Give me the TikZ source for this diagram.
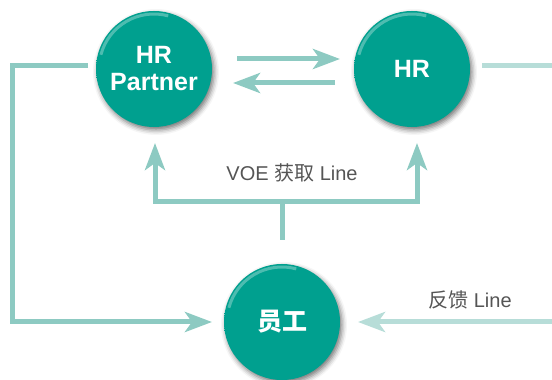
\documentclass[tikz,border=0pt]{standalone}
\usepackage{fontspec}
\setmainfont{Liberation Sans}
\newfontfamily\cjk{Noto Sans CJK SC}
\usepackage{tikz}
\usetikzlibrary{arrows.meta,calc,positioning,shadows.blur}
\definecolor{ballmid}{HTML}{00A08F}
\definecolor{balledge}{HTML}{00867A}
\definecolor{linkcol}{HTML}{8DCAC2}
\definecolor{faintcol}{HTML}{B7DDD8}
\definecolor{notecol}{HTML}{555555}
\pgfdeclareradialshading{tealball}{\pgfpoint{-5bp}{5bp}}{color(0bp)=(ballmid); color(34bp)=(ballmid); color(50bp)=(balledge)}
\tikzset{%
	ball/.style     = {circle, minimum size=116pt, inner sep=0pt, outer sep=0pt, shading=tealball,
	                   text=white, align=center, font=\fontsize{25}{27}\selectfont\bfseries,
	                   blur shadow={shadow xshift=2pt, shadow yshift=-3pt, shadow blur radius=5pt, shadow opacity=55},
	                   path picture={\draw[white, opacity=.3, line width=3pt]
	                     ([shift={(165:55pt)}]path picture bounding box.center) arc (165:75:55pt);}}, % node
	waypoint/.style = {coordinate}, % helper point
	link/.style     = {draw=linkcol, line width=5pt, -{Stealth[length=27pt, width=20pt, inset=7pt]}}, % arrow
	faint/.style    = {draw=faintcol, line width=5pt}, % pale line
	note/.style     = {text=notecol, font=\fontsize{20}{24}\selectfont}, % line label
}

\begin{document}
\begin{tikzpicture}[x=1pt, y=1pt, node distance=258pt]
	\useasboundingbox (0,0) rectangle (552,380);
	\node[ball] (hrp) at (154,311) {HR\\Partner};
	\node[ball,right of=hrp] (hr) {HR};
	\node[waypoint,right of=hrp,node distance=128pt] (mid) {};
	\node[ball,below of=mid,node distance=253pt] (emp) {{\cjk 员工}};
	\coordinate (hrout) at (552,314);
	\coordinate (fbin) at (552,58);
	\coordinate (voe) at (282,140);
	
	\draw[link] ([shift={(25,10)}]hrp.east) -- ([shift={(-14,10)}]hr.west);
	\draw[link] ([shift={(-19,-14)}]hr.west) -- ([shift={(21,-14)}]hrp.east);
	\draw[link] ([shift={(-8,3)}]hrp.west) -- ++(-76,0) |- ([xshift=-12]emp.west);
	\draw[link] (voe) -- ++(0,38) -| ([shift={(1,-16)}]hrp.south);
	\draw[link] (voe) -- ++(0,38) -| ([shift={(5,-16)}]hr.south);
	\draw[faint] ([shift={(12,3)}]hr.east) -- (hrout);
	\draw[faint,-{Stealth[length=27pt, width=20pt, inset=7pt]}] (fbin) -- ([xshift=18]emp.east);
	
	\node[note] (voelbl) at (292,207) {VOE {\cjk 获取} Line};
	\node[note] (fblbl) at (470,80) {{\cjk 反馈} Line};
\end{tikzpicture}
\end{document}
